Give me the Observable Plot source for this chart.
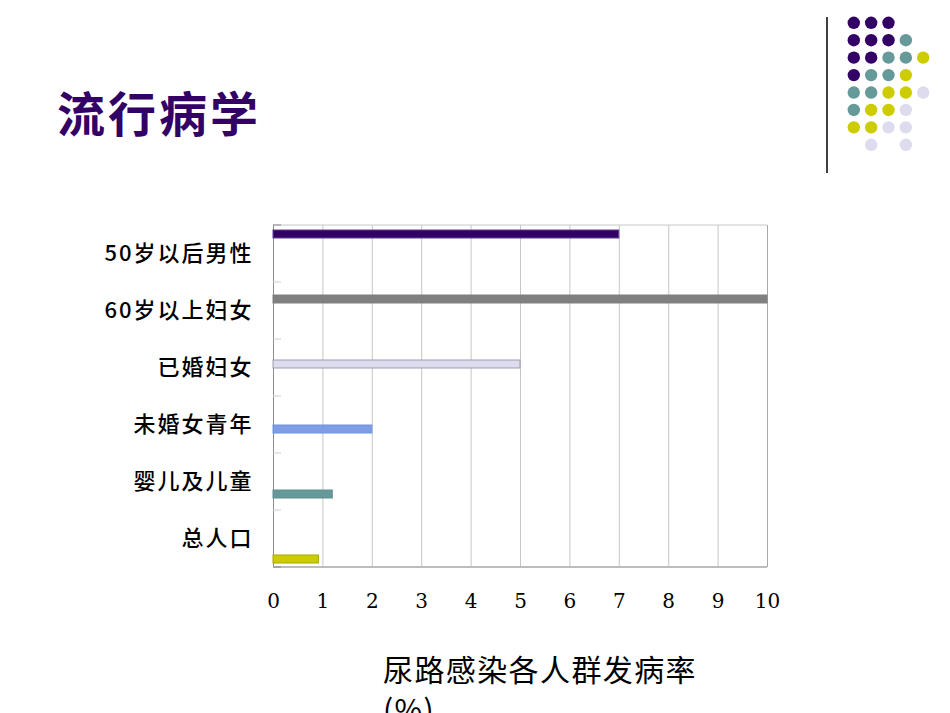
<!DOCTYPE html>
<html><head><meta charset="utf-8">
<script src="https://cdn.jsdelivr.net/npm/d3@7"></script>
<script src="https://cdn.jsdelivr.net/npm/@observablehq/plot@0.6"></script>
<style>
body{margin:0;background:#fff;}
#page{position:relative;width:950px;height:713px;overflow:hidden;background:#fff;font-family:"Noto Sans CJK SC",sans-serif;}
#title{position:absolute;left:57px;top:86px;font-size:48px;font-weight:bold;color:#330066;letter-spacing:3px;line-height:50px;white-space:nowrap;}
#xtitle{position:absolute;left:383px;top:648px;font-size:30px;line-height:40px;letter-spacing:1.4px;color:#000;white-space:nowrap;}
#vline{position:absolute;left:826px;top:17px;width:1.5px;height:156px;background:#404040;}
#chart{position:absolute;left:0;top:0;}
#deco{position:absolute;left:820px;top:0;}
#chart g[aria-label="fy-axis tick label"] text{letter-spacing:2px;}
</style></head>
<body><div id="page">
<div id="title">流行病学</div>
<div id="vline"></div>
<div id="deco"></div>
<div id="chart"></div>
<div id="xtitle">尿路感染各人群发病率<br>(%)</div>
</div>
<script>
// ---- data ----
const categories = ["50岁以后男性","60岁以上妇女","已婚妇女","未婚女青年","婴儿及儿童","总人口"];
const rates = [7, 10, 5, 2, 1.2, 0.92];
const xTicks = [0,1,2,3,4,5,6,7,8,9,10];
// decorative dot grid (P purple, T teal, Y yellow, L lavender)
const dotRows = ["PPP..","PPPT.","PPTTY","PTTY.","TTYYL","TYYL.","YYLL.",".L.L."];

// ---- styles ----
const fills   = ["#330066","#808080","#dcdcee","#7f9de6","#669999","#cccc00"];
const strokes = ["#5e3f92","#808080","#9c9cae","#7090dc","#5f8f8f","#a9a900"];
const dotColors = {P:"#330066", T:"#669999", Y:"#cccc00", L:"#dcdcee"};

const table = categories.map((c,i)=>({group:c, value:rates[i]}));
const idx = c => categories.indexOf(c);

const chart = Plot.plot({
  width: 950, height: 625,
  marginLeft: 273, marginRight: 183, marginTop: 225, marginBottom: 58,
  style: {fontFamily: '"Noto Sans CJK SC", sans-serif', background: "transparent", color: "#000"},
  x: {domain: [0,10], label: null},
  y: {domain: categories, paddingInner: 0, paddingOuter: 0.5625, axis: null},
  fy: {domain: categories, padding: 0, label: null},
  facet: {data: table, y: "group"},
  marks: [
    Plot.gridX(xTicks, {stroke: "#c6c6c6", strokeOpacity: 1}),
    Plot.ruleX([0], {stroke: "#8c8c8c"}),
    Plot.ruleX([10], {stroke: "#a8a8a8"}),
    Plot.barX(table, {y: "group", x: "value",
      fill: d => fills[idx(d.group)], stroke: d => strokes[idx(d.group)], strokeWidth: 1}),
    Plot.axisX(xTicks, {tickSize: 0, tickPadding: 26, fontSize: 20, fontFamily: "DejaVu Serif", label: null}),
    Plot.axisFy({anchor: "left", tickSize: 0, tickPadding: 20, fontSize: 22, fontWeight: 500, label: null})
  ]
});
document.getElementById("chart").appendChild(chart);

// frame top/bottom and short boundary ticks, from Plot's own scales
(function(){
  const xs = chart.scale("x"), fys = chart.scale("fy");
  const x0 = xs.apply(0), x1 = xs.apply(10);
  const bounds = categories.map(c => fys.apply(c));
  const bottom = bounds[bounds.length-1] + fys.bandwidth;
  const svg = d3.select(chart);
  const g = svg.append("g").attr("aria-label","frame");
  g.append("line").attr("x1",x0).attr("x2",x1).attr("y1",bounds[0]).attr("y2",bounds[0]).attr("stroke","#c8c8c8");
  g.append("line").attr("x1",x0).attr("x2",x1).attr("y1",bottom).attr("y2",bottom).attr("stroke","#bdbdbd").attr("stroke-width",2);
  bounds.slice(1).concat([bounds[0], bottom]).forEach((y,i) => {
    g.append("line").attr("x1",x0).attr("x2",x0+8).attr("y1",y).attr("y2",y)
      .attr("stroke", i < bounds.length-1 ? "#cfcfcf" : "#8c8c8c");
  });
})();

// decoration
const dots = [];
dotRows.forEach((row,r) => [...row].forEach((ch,c) => { if (ch !== ".") dots.push({col:c, row:r, kind:ch}); }));
const deco = Plot.plot({
  width: 130, height: 180,
  marginLeft: 33.3, marginRight: 27.3, marginTop: 22.3, marginBottom: 35.7,
  style: {background: "transparent"},
  x: {domain: [0,4], axis: null},
  y: {domain: [0,7], reverse: true, axis: null},
  marks: [Plot.dot(dots, {x: "col", y: "row", r: 6.2, fill: d => dotColors[d.kind]})]
});
document.getElementById("deco").appendChild(deco);
</script>
</body></html>
